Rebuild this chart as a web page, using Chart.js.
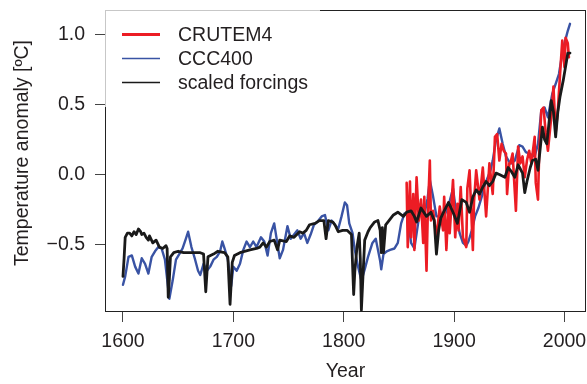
<!DOCTYPE html>
<html>
<head>
<meta charset="utf-8">
<script src="https://cdn.jsdelivr.net/npm/chart.js@4.4.0/dist/chart.umd.min.js"></script>
<style>
    body { margin: 0; background: #fff; }
    #wrap { width: 587px; height: 384px; position: relative; }
</style>
</head>
<body>
<div id="wrap"><canvas id="chart"></canvas></div>
<script>
// CRUTEM4 (red)
const crutemYears = [1857, 1858, 1860, 1861, 1863, 1864, 1866, 1868, 1870, 1872, 1873, 1875, 1876, 1878, 1879,
    1881, 1884, 1887, 1890, 1891, 1893, 1895, 1896, 1899, 1901, 1903, 1904, 1906, 1908, 1911, 1912, 1914,
    1917, 1918, 1920, 1923, 1926, 1929, 1932, 1935, 1937, 1939, 1941, 1943, 1945, 1947, 1948, 1950, 1951,
    1953, 1956, 1958, 1960, 1962, 1964, 1966, 1968, 1970, 1973, 1974, 1976, 1977, 1979, 1981, 1983, 1985,
    1988, 1990, 1992, 1994, 1996, 1998, 2000, 2001, 2003, 2004];
const crutemValues = [-0.06, -0.52, -0.05, -0.45, -0.14, -0.54, -0.02, -0.33, -0.18, -0.49, -0.16, -0.69, -0.33, 0.10, -0.33,
    -0.26, -0.45, -0.23, -0.40, -0.16, -0.54, -0.20, -0.42, -0.04, -0.45, -0.21, -0.40, -0.09, -0.45, -0.52, -0.10, 0.03,
    -0.54, -0.20, 0.03, -0.18, 0.05, -0.30, 0.08, -0.14, 0.27, 0.29, 0.10, 0.22, 0.17, 0.15, -0.14, 0.08, 0.08,
    0.15, -0.26, 0.20, 0.08, 0.13, -0.02, 0.10, 0.17, 0.08, 0.27, -0.06, -0.18, 0.13, 0.46, 0.48, 0.30, 0.17,
    0.41, 0.63, 0.30, 0.46, 0.72, 0.96, 0.77, 0.98, 0.94, 0.84];

// CCC400 (blue)
const cccYears = [1600, 1602, 1605, 1608, 1611, 1614, 1617, 1620, 1623, 1626, 1629, 1632, 1635, 1638, 1640, 1642,
    1645, 1648, 1651, 1654, 1657, 1659, 1662, 1665, 1668, 1670, 1673, 1676, 1679, 1682, 1685, 1688, 1690,
    1692, 1695, 1698, 1700, 1703, 1706, 1709, 1712, 1715, 1718, 1721, 1725, 1728, 1731, 1734, 1737, 1739,
    1742, 1745, 1749, 1752, 1755, 1758, 1761, 1764, 1767, 1770, 1773, 1776, 1780, 1783, 1786, 1789, 1792,
    1795, 1798, 1801, 1803, 1805, 1808, 1810, 1813, 1816, 1819, 1822, 1826, 1829, 1831, 1833, 1834, 1836,
    1839, 1842, 1846, 1849, 1852, 1855, 1858, 1861, 1864, 1867, 1870, 1873, 1876, 1878, 1881, 1884, 1887,
    1891, 1895, 1899, 1902, 1905, 1908, 1911, 1913, 1916, 1919, 1922, 1925, 1928, 1931, 1933, 1935, 1938,
    1941, 1944, 1947, 1950, 1952, 1955, 1959, 1962, 1965, 1968, 1973, 1976, 1979, 1982, 1985, 1989, 1992,
    1995, 1997, 2000, 2003, 2005];
const cccValues = [-0.79, -0.73, -0.59, -0.58, -0.66, -0.71, -0.60, -0.64, -0.71, -0.59, -0.55, -0.52, -0.53, -0.61, -0.75, -0.89,
    -0.76, -0.61, -0.57, -0.53, -0.46, -0.41, -0.52, -0.60, -0.69, -0.72, -0.64, -0.69, -0.66, -0.61, -0.59, -0.55, -0.48,
    -0.53, -0.61, -0.80, -0.66, -0.69, -0.64, -0.54, -0.48, -0.52, -0.48, -0.52, -0.45, -0.48, -0.58, -0.42, -0.35, -0.45,
    -0.60, -0.54, -0.37, -0.46, -0.43, -0.40, -0.46, -0.42, -0.49, -0.43, -0.36, -0.34, -0.30, -0.29, -0.40, -0.33, -0.36,
    -0.39, -0.30, -0.20, -0.22, -0.35, -0.42, -0.54, -0.66, -0.76, -0.68, -0.59, -0.49, -0.46, -0.54, -0.62, -0.68, -0.57,
    -0.55, -0.54, -0.53, -0.49, -0.35, -0.28, -0.30, -0.49, -0.53, -0.37, -0.21, -0.29, -0.17, -0.04, -0.16, -0.30, -0.30,
    -0.30, -0.22, -0.10, -0.28, -0.42, -0.49, -0.51, -0.48, -0.40, -0.30, -0.24, -0.16, -0.07, -0.01, 0.03, 0.10, 0.25,
    0.33, 0.22, 0.13, 0.09, 0.08, 0.10, 0.21, 0.20, 0.16, 0.15, 0.13, 0.22, 0.46, 0.48, 0.41, 0.58, 0.65,
    0.72, 0.82, 0.94, 1.03, 1.08];

// scaled forcings (black)
const forcingYears = [1600, 1601, 1602, 1604, 1606, 1608, 1610, 1612, 1614, 1616, 1617, 1619, 1621, 1623, 1624, 1627,
    1630, 1633, 1636, 1639, 1640, 1641, 1642, 1643, 1646, 1650, 1655, 1660, 1665, 1670, 1673, 1675, 1677,
    1682, 1686, 1692, 1695, 1697, 1699, 1701, 1706, 1715, 1721, 1724, 1727, 1730, 1733, 1737, 1740, 1742,
    1748, 1751, 1755, 1760, 1763, 1766, 1769, 1774, 1778, 1782, 1784, 1786, 1790, 1792, 1795, 1799, 1803,
    1807, 1809, 1810, 1812, 1814, 1815, 1816, 1817, 1819, 1822, 1824, 1828, 1831, 1833, 1834, 1835, 1836,
    1838, 1841, 1845, 1849, 1854, 1857, 1861, 1864, 1866, 1870, 1875, 1879, 1882, 1884, 1886, 1888, 1891,
    1895, 1899, 1903, 1907, 1911, 1914, 1917, 1920, 1923, 1926, 1929, 1932, 1935, 1938, 1941, 1946, 1949,
    1952, 1955, 1958, 1962, 1964, 1966, 1969, 1971, 1974, 1976, 1980, 1982, 1984, 1988, 1990, 1992, 1994,
    1996, 1999, 2002, 2003, 2005];
const forcingValues = [-0.73, -0.60, -0.45, -0.42, -0.42, -0.44, -0.41, -0.43, -0.39, -0.41, -0.43, -0.42, -0.45, -0.47, -0.44, -0.49,
    -0.47, -0.52, -0.53, -0.51, -0.53, -0.88, -0.75, -0.59, -0.56, -0.55, -0.56, -0.56, -0.56, -0.56, -0.57, -0.84, -0.59,
    -0.57, -0.55, -0.56, -0.59, -0.93, -0.63, -0.58, -0.56, -0.54, -0.53, -0.52, -0.49, -0.52, -0.48, -0.47, -0.54, -0.47,
    -0.48, -0.44, -0.45, -0.41, -0.42, -0.40, -0.36, -0.35, -0.33, -0.33, -0.46, -0.33, -0.34, -0.36, -0.41, -0.40, -0.40,
    -0.43, -0.86, -0.70, -0.52, -0.42, -0.60, -0.97, -0.80, -0.47, -0.41, -0.38, -0.34, -0.33, -0.40, -0.56, -0.38, -0.56,
    -0.36, -0.33, -0.29, -0.27, -0.30, -0.27, -0.26, -0.30, -0.34, -0.24, -0.30, -0.27, -0.33, -0.57, -0.40, -0.31, -0.26,
    -0.20, -0.27, -0.35, -0.18, -0.20, -0.27, -0.16, -0.11, -0.14, -0.09, -0.05, -0.08, -0.05, 0.01, 0.00, -0.02, 0.05,
    0.02, -0.02, 0.07, 0.01, -0.13, -0.05, 0.05, 0.10, 0.11, 0.03, 0.34, 0.25, 0.22, 0.53, 0.45, 0.27, 0.45,
    0.56, 0.68, 0.82, 0.87, 0.87];

const xTicks = [1600, 1700, 1800, 1900, 2000];
const yTicks = [-0.5, 0.0, 0.5, 1.0];
const legendLabels = ['CRUTEM4', 'CCC400', 'scaled forcings'];

const FONT = '"Liberation Sans", Arial, Helvetica, sans-serif';
const TEXT = '#231f20';
const RED = '#ec1c24';
const BLUE = '#3953a4';
const BLACK = '#1a1a1a';

function toPoints(xs, ys) {
    return xs.map((x, i) => ({ x: x, y: ys[i] }));
}

// stop chart.js from shrinking the plot to make room for the end labels
function fixScale(scale, size) {
    if (scale.isHorizontal()) {
        scale.height = size;
    } else {
        scale.width = size;
    }
    scale.paddingLeft = 0;
    scale.paddingRight = 0;
    scale.paddingTop = 0;
    scale.paddingBottom = 0;
}

// frame, axis titles and legend, drawn on top
const decorPlugin = {
    id: 'decor',
    afterDraw(chart) {
        const ctx = chart.ctx;
        const a = chart.chartArea;
        ctx.save();
        // box round the plot
        ctx.strokeStyle = '#222';
        ctx.lineWidth = 1;
        ctx.strokeRect(a.left + 0.5, a.top + 0.5, a.right - a.left - 1, a.bottom - a.top);

        // legend sits over the corner with a see-through white fill
        ctx.fillStyle = 'rgba(255,255,255,0.75)';
        ctx.fillRect(a.left, a.top - 1, 215, 98);

        const colors = [RED, BLUE, BLACK];
        const widths = [3, 1.6, 1.6];
        const rows = [34.5, 58.5, 82.5];
        ctx.font = '19.5px ' + FONT;
        ctx.textBaseline = 'middle';
        ctx.textAlign = 'left';
        legendLabels.forEach((label, i) => {
            ctx.strokeStyle = colors[i];
            ctx.lineWidth = widths[i];
            ctx.beginPath();
            ctx.moveTo(122, rows[i]);
            ctx.lineTo(160, rows[i]);
            ctx.stroke();
            ctx.fillStyle = TEXT;
            ctx.fillText(label, 178, rows[i] + 1);
        });

        // axis titles
        ctx.fillStyle = TEXT;
        ctx.textAlign = 'center';
        ctx.fillText('Year', (a.left + a.right) / 2, 372);
        ctx.translate(23, 153);
        ctx.rotate(-Math.PI / 2);
        ctx.fillText('Temperature anomaly [ºC]', 0, 0);
        ctx.restore();
    }
};

const ctx = document.getElementById('chart').getContext('2d');
const chart = new Chart(ctx, {
    type: 'line',
    data: {
        datasets: [
            {
                label: 'scaled forcings',
                data: toPoints(forcingYears, forcingValues),
                borderColor: BLACK,
                borderWidth: 2.8,
                order: 0
            },
            {
                label: 'CRUTEM4',
                data: toPoints(crutemYears, crutemValues),
                borderColor: RED,
                borderWidth: 2.6,
                order: 1
            },
            {
                label: 'CCC400',
                data: toPoints(cccYears, cccValues),
                borderColor: BLUE,
                borderWidth: 2.4,
                order: 2
            }
        ]
    },
    options: {
        responsive: true,
        maintainAspectRatio: false,
        animation: false,
        layout: { padding: { top: 10, right: 1, left: 0, bottom: 0 } },
        elements: {
            point: { radius: 0 },
            line: { tension: 0, borderJoinStyle: 'round', borderCapStyle: 'round', fill: false }
        },
        plugins: {
            legend: { display: false },
            tooltip: { enabled: false }
        },
        scales: {
            x: {
                type: 'linear',
                min: 1583.7,
                max: 2019.5,
                afterFit: (scale) => fixScale(scale, 73),
                afterBuildTicks: (scale) => { scale.ticks = xTicks.map(v => ({ value: v })); },
                border: { display: false },
                grid: { drawOnChartArea: false, drawTicks: true, tickLength: 11, tickColor: '#444', tickWidth: 1 },
                ticks: {
                    padding: 8,
                    color: TEXT,
                    maxRotation: 0,
                    font: { family: FONT, size: 19.5 },
                    callback: (v) => String(v)
                }
            },
            y: {
                type: 'linear',
                min: -0.978,
                max: 1.179,
                afterFit: (scale) => fixScale(scale, 105),
                afterBuildTicks: (scale) => { scale.ticks = yTicks.map(v => ({ value: v })); },
                border: { display: false },
                grid: { drawOnChartArea: false, drawTicks: true, tickLength: 10, tickColor: '#444', tickWidth: 1 },
                ticks: {
                    padding: 10,
                    color: TEXT,
                    font: { family: FONT, size: 19.5 },
                    callback: (v) => (v < 0 ? '\u2212' + Math.abs(v).toFixed(1) : v.toFixed(1))
                }
            }
        }
    },
    plugins: [decorPlugin]
});
</script>
</body>
</html>
